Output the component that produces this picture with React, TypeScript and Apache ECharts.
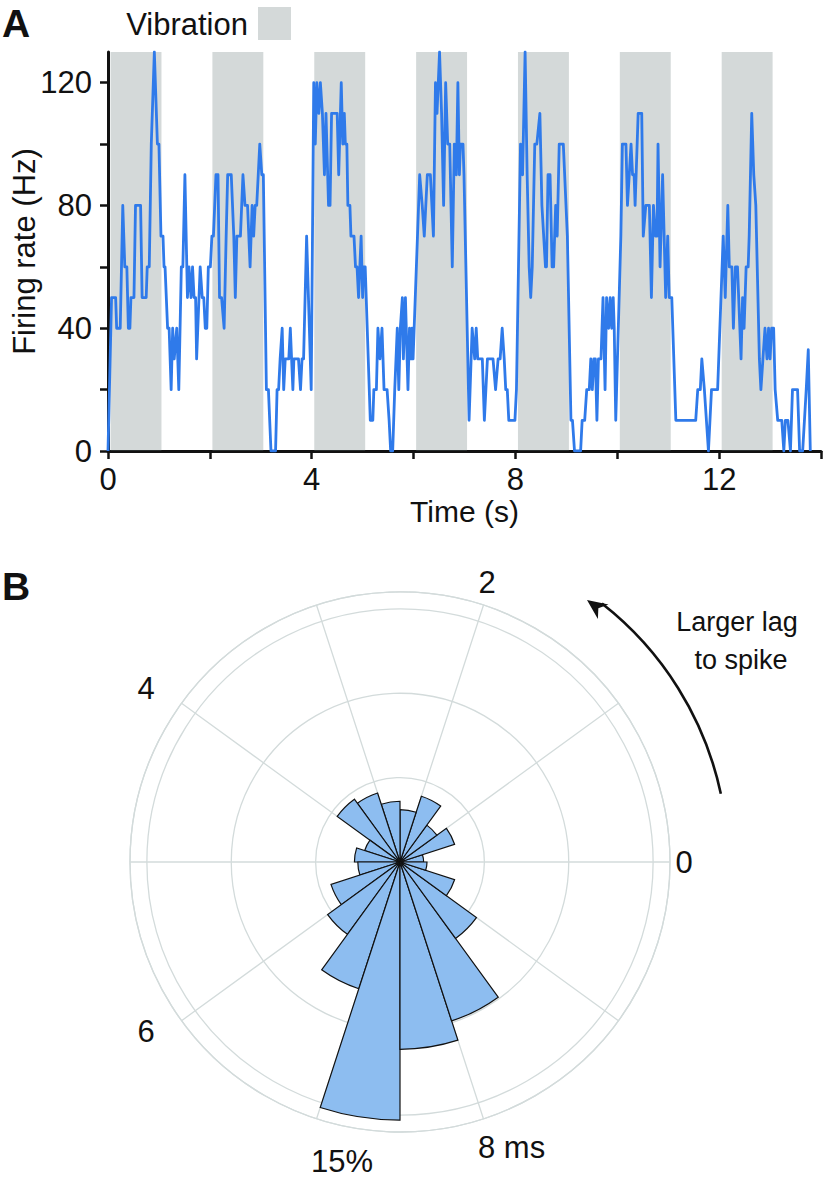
import React, { useEffect, useRef } from "react";
import * as echarts from "echarts";

// ---------- Panel A: firing rate trace ----------
const times = [
  0, 0.07, 0.15, 0.17, 0.24, 0.29, 0.33, 0.37, 0.4, 0.43, 0.45, 0.51, 0.54, 0.64, 0.67, 0.75, 0.77, 0.81, 0.85, 0.91,
  0.97, 1.0, 1.04, 1.08, 1.1, 1.12, 1.17, 1.2, 1.24, 1.27, 1.3, 1.35, 1.39, 1.44, 1.47, 1.51, 1.56, 1.59, 1.63, 1.66,
  1.69, 1.72, 1.74, 1.81, 1.85, 1.88, 1.91, 1.94, 1.97, 2.01, 2.04, 2.07, 2.12, 2.16, 2.19, 2.23, 2.28, 2.32, 2.35, 2.42,
  2.47, 2.5, 2.53, 2.6, 2.65, 2.69, 2.74, 2.79, 2.83, 2.86, 2.89, 2.92, 2.98, 3.02, 3.05, 3.11, 3.15, 3.2, 3.29, 3.32,
  3.35, 3.38, 3.42, 3.45, 3.48, 3.55, 3.58, 3.63, 3.65, 3.74, 3.78, 3.81, 3.84, 3.9, 3.99, 4.04, 4.07, 4.1, 4.14, 4.17,
  4.21, 4.25, 4.28, 4.33, 4.36, 4.39, 4.5, 4.53, 4.58, 4.61, 4.64, 4.66, 4.69, 4.71, 4.75, 4.77, 4.83, 4.86, 4.89, 4.92,
  4.97, 5.0, 5.02, 5.05, 5.15, 5.2, 5.22, 5.27, 5.3, 5.34, 5.38, 5.42, 5.48, 5.52, 5.55, 5.59, 5.63, 5.68, 5.71, 5.74,
  5.78, 5.8, 5.84, 5.89, 5.92, 5.95, 5.97, 5.99, 6.12, 6.17, 6.21, 6.27, 6.33, 6.39, 6.43, 6.46, 6.51, 6.55, 6.59, 6.63,
  6.67, 6.71, 6.76, 6.8, 6.84, 6.87, 6.9, 6.92, 6.97, 6.99, 7.09, 7.15, 7.2, 7.23, 7.26, 7.35, 7.39, 7.45, 7.56, 7.61,
  7.66, 7.7, 7.74, 7.78, 7.81, 7.84, 7.87, 7.99, 8.02, 8.1, 8.14, 8.19, 8.23, 8.27, 8.3, 8.33, 8.38, 8.42, 8.48, 8.52,
  8.59, 8.61, 8.64, 8.68, 8.72, 8.75, 8.79, 8.82, 8.86, 8.94, 9.02, 9.09, 9.12, 9.16, 9.28, 9.31, 9.36, 9.4, 9.45, 9.48,
  9.51, 9.54, 9.57, 9.6, 9.63, 9.68, 9.72, 9.76, 9.79, 9.83, 9.86, 9.89, 9.92, 9.94, 9.97, 10.07, 10.1, 10.17, 10.2, 10.27,
  10.3, 10.33, 10.35, 10.41, 10.48, 10.51, 10.56, 10.63, 10.67, 10.71, 10.75, 10.78, 10.8, 10.84, 10.89, 10.92, 10.95, 10.99, 11.02, 11.07,
  11.15, 11.54, 11.58, 11.63, 11.66, 11.71, 11.79, 11.85, 11.97, 12.08, 12.12, 12.17, 12.2, 12.25, 12.28, 12.32, 12.36, 12.43, 12.46, 12.49,
  12.53, 12.57, 12.59, 12.64, 12.68, 12.72, 12.79, 12.82, 12.86, 12.9, 12.94, 12.97, 13.0, 13.03, 13.07, 13.1, 13.15, 13.23, 13.27, 13.3,
  13.35, 13.4, 13.44, 13.54, 13.58, 13.64, 13.71, 13.75, 13.79,
];
const rates = [
  0, 50, 50, 40, 40, 80, 60, 60, 40, 40, 50, 50, 80, 80, 50, 50, 60, 60, 100, 130,
  100, 100, 70, 70, 60, 60, 40, 40, 20, 40, 30, 40, 20, 60, 60, 90, 50, 60, 50, 60,
  50, 50, 30, 60, 50, 50, 40, 40, 60, 60, 70, 70, 90, 90, 50, 50, 40, 70, 90, 90,
  70, 50, 70, 70, 90, 80, 80, 60, 80, 70, 80, 80, 100, 90, 90, 20, 20, 0, 0, 20,
  20, 30, 40, 20, 30, 30, 40, 20, 30, 30, 20, 30, 30, 70, 20, 120, 100, 120, 110, 120,
  110, 90, 110, 80, 80, 110, 110, 90, 120, 100, 110, 100, 100, 80, 80, 70, 70, 60, 60, 50,
  70, 50, 60, 60, 10, 10, 20, 20, 40, 30, 40, 20, 20, 10, 0, 0, 20, 40, 20, 40,
  50, 30, 50, 20, 40, 30, 40, 30, 90, 80, 70, 90, 90, 70, 120, 110, 130, 110, 80, 120,
  100, 100, 60, 100, 90, 120, 90, 100, 100, 90, 10, 40, 30, 40, 30, 30, 10, 30, 30, 20,
  30, 30, 40, 30, 20, 20, 10, 10, 20, 100, 90, 130, 90, 60, 50, 60, 100, 100, 110, 80,
  60, 60, 90, 90, 60, 60, 80, 70, 100, 100, 70, 10, 10, 0, 0, 10, 10, 20, 20, 30,
  20, 30, 30, 10, 30, 30, 50, 20, 50, 40, 50, 40, 50, 40, 10, 70, 100, 100, 80, 100,
  90, 90, 80, 110, 110, 70, 80, 80, 50, 80, 70, 70, 100, 60, 90, 70, 50, 70, 50, 50,
  10, 10, 20, 20, 30, 20, 0, 20, 20, 70, 50, 80, 60, 60, 40, 60, 60, 30, 50, 40,
  60, 60, 70, 110, 90, 80, 30, 20, 30, 40, 30, 40, 30, 40, 40, 20, 10, 10, 0, 10,
  10, 0, 20, 20, 0, 0, 20, 33, 0,
];
const vibrationStarts = [0.05, 2.05, 4.05, 6.05, 8.05, 10.05, 12.05];
const vibrationEnds = [1.05, 3.05, 5.05, 7.05, 9.05, 11.05, 13.05];
const xTickValues = [0, 2, 4, 6, 8, 10, 12, 14];
const xLabelValues = [0, 4, 8, 12];
const yTickValues = [0, 20, 40, 60, 80, 100, 120];
const yLabelValues = [0, 40, 80, 120];

// ---------- Panel B: lag histogram (0.5 ms bins, % of spikes) ----------
const lagBinStarts = [0, 0.5, 1, 1.5, 2, 2.5, 3, 3.5, 4, 4.5, 5, 5.5, 6, 6.5, 7, 7.5, 8, 8.5, 9, 9.5];
const lagPercent = [1.4, 3.4, 2.7, 4.1, 3.1, 3.6, 4.3, 4.6, 2.2, 2.7, 2.5, 4.3, 5.3, 7.9, 15.3, 11.1, 9.9, 5.6, 3.4, 1.6];
const angleLabels = ["0", "2", "4", "6", "8 ms"];
const radiusLabel = "15%";

const FONT = "'Liberation Sans', Arial, Helvetica, sans-serif";
const LINE_BLUE = "#2f7aea";
const VIB_FILL = "rgba(100,120,118,0.28)";
const GRID_GREY = "#d3dbdb";
const BAR_BLUE = "#8dbdf0";

const deg = Math.PI / 180;

export default function App() {
  const ref = useRef<HTMLDivElement>(null);

  useEffect(() => {
    if (!ref.current) return;
    const chart = echarts.init(ref.current, null, { renderer: "svg" });

    const lineData = times.map((t, i) => [t, rates[i]]);
    const areas = vibrationStarts.map((s, i) => [
      { xAxis: s, yAxis: 0 },
      { xAxis: vibrationEnds[i], yAxis: 130 },
    ]);

    const angleLabelPos = [
      [684, 862, "center"],
      [487, 582, "center"],
      [146, 688, "center"],
      [146, 1031, "center"],
      [478, 1147, "left"],
    ];

    // arrowhead geometry
    const tip = [587, 600];
    const dir = [-0.81, -0.59];
    const perp = [0.59, -0.81];
    const back = [tip[0] - dir[0] * 20, tip[1] - dir[1] * 20];
    const notch = [tip[0] - dir[0] * 14, tip[1] - dir[1] * 14];

    const option: any = {
      animation: false,
      textStyle: { fontFamily: FONT },
      grid: { left: 108, right: 8, top: 52, bottom: 732, containLabel: false, outerBoundsMode: "none" },
      xAxis: {
        type: "value",
        min: 0,
        max: 14,
        interval: 2,
        name: "Time (s)",
        nameLocation: "middle",
        nameGap: 46,
        nameMoveOverlap: false,
        nameTextStyle: { fontSize: 30, lineHeight: 28, color: "#111", fontFamily: FONT },
        axisLine: { show: true, onZero: false, lineStyle: { color: "#111", width: 3 } },
        axisTick: { show: true, length: 8, customValues: xTickValues, lineStyle: { color: "#111", width: 2.5 } },
        axisLabel: {
          customValues: xLabelValues,
          margin: 14,
          fontSize: 31,
          lineHeight: 29,
          color: "#111",
          fontFamily: FONT,
          formatter: (v: number) => (xLabelValues.includes(v) ? String(v) : ""),
        },
        splitLine: { show: false },
      },
      yAxis: {
        type: "value",
        min: 0,
        max: 130,
        interval: 20,
        name: "Firing rate (Hz)",
        nameLocation: "middle",
        nameGap: 68,
        nameMoveOverlap: false,
        nameTextStyle: { fontSize: 31, color: "#111", fontFamily: FONT },
        axisLine: { show: true, onZero: false, lineStyle: { color: "#111", width: 3 } },
        axisTick: { show: true, length: 8, customValues: yTickValues, lineStyle: { color: "#111", width: 2.5 } },
        axisLabel: {
          customValues: yLabelValues,
          margin: 16,
          fontSize: 31,
          color: "#111",
          fontFamily: FONT,
          formatter: (v: number) => (yLabelValues.includes(v) ? String(v) : ""),
        },
        splitLine: { show: false },
      },
      polar: [
        { center: [400, 862], radius: 270 },
        { center: [400, 862], radius: 270 },
      ],
      angleAxis: [
        {
          polarIndex: 0,
          type: "value",
          min: 0,
          max: 10,
          interval: 1,
          startAngle: 0,
          clockwise: false,
          axisLine: { show: true, lineStyle: { color: GRID_GREY, width: 1.3 } },
          axisTick: { show: false },
          axisLabel: { show: false },
          splitLine: { show: true, lineStyle: { color: GRID_GREY, width: 1.3 } },
        },
        {
          polarIndex: 1,
          type: "category",
          data: lagBinStarts,
          startAngle: 0,
          clockwise: false,
          boundaryGap: true,
          axisLine: { show: false },
          axisTick: { show: false },
          axisLabel: { show: false },
          splitLine: { show: false },
        },
      ],
      radiusAxis: [
        {
          polarIndex: 0,
          type: "value",
          min: 0,
          max: 16,
          interval: 5,
          axisLine: { show: false },
          axisTick: { show: false },
          axisLabel: { show: false },
          splitLine: { show: true, lineStyle: { color: GRID_GREY, width: 1.3 } },
        },
        {
          polarIndex: 1,
          type: "value",
          min: 0,
          max: 16,
          axisLine: { show: false },
          axisTick: { show: false },
          axisLabel: { show: false },
          splitLine: { show: false },
        },
      ],
      series: [
        {
          type: "line",
          name: "Firing rate",
          data: lineData,
          showSymbol: false,
          symbol: "none",
          lineStyle: { color: LINE_BLUE, width: 2.8, join: "round" },
          z: 2,
          silent: true,
        },
        {
          type: "line",
          name: "Vibration",
          data: [],
          z: 5,
          silent: true,
          markArea: {
            silent: true,
            itemStyle: { color: VIB_FILL, borderWidth: 0 },
            data: areas,
          },
        },
        {
          type: "bar",
          name: "Lag",
          coordinateSystem: "polar",
          polarIndex: 1,
          data: lagPercent,
          barCategoryGap: "0%",
          itemStyle: { color: BAR_BLUE, borderColor: "#111", borderWidth: 1.2 },
          z: 3,
          silent: true,
        },
      ],
      graphic: [
        { type: "text", x: 16, y: 23, style: { text: "A", font: `bold 39px ${FONT}`, fill: "#111", textAlign: "center", textVerticalAlign: "middle" } },
        { type: "text", x: 16, y: 586, style: { text: "B", font: `bold 39px ${FONT}`, fill: "#111", textAlign: "center", textVerticalAlign: "middle" } },
        { type: "text", x: 248, y: 24, style: { text: "Vibration", font: `31px ${FONT}`, fill: "#111", textAlign: "right", textVerticalAlign: "middle" } },
        { type: "rect", shape: { x: 258, y: 7, width: 33, height: 33 }, style: { fill: VIB_FILL } },
        ...angleLabels.map((t, i) => ({
          type: "text",
          x: angleLabelPos[i][0],
          y: angleLabelPos[i][1],
          style: { text: t, font: `31px ${FONT}`, fill: "#111", textAlign: angleLabelPos[i][2], textVerticalAlign: "middle" },
        })),
        { type: "text", x: 342, y: 1161, style: { text: radiusLabel, font: `31px ${FONT}`, fill: "#111", textAlign: "center", textVerticalAlign: "middle" } },
        { type: "text", x: 737, y: 622, style: { text: "Larger lag", font: `27px ${FONT}`, fill: "#111", textAlign: "center", textVerticalAlign: "middle" } },
        { type: "text", x: 741, y: 660, style: { text: "to spike", font: `27px ${FONT}`, fill: "#111", textAlign: "center", textVerticalAlign: "middle" } },
        {
          type: "arc",
          shape: { cx: 400, cy: 862, r: 328, startAngle: -52 * deg, endAngle: -12 * deg, clockwise: true },
          style: { stroke: "#111", lineWidth: 2.6, fill: null },
        },
        {
          type: "polygon",
          shape: {
            points: [
              tip,
              [back[0] + perp[0] * 9, back[1] + perp[1] * 9],
              notch,
              [back[0] - perp[0] * 9, back[1] - perp[1] * 9],
            ],
          },
          style: { fill: "#111" },
        },
      ],
    };

    chart.setOption(option);
    return () => chart.dispose();
  }, []);

  return <div ref={ref} style={{ position: "absolute", left: 0, top: 0, width: 829, height: 1183 }} />;
}
